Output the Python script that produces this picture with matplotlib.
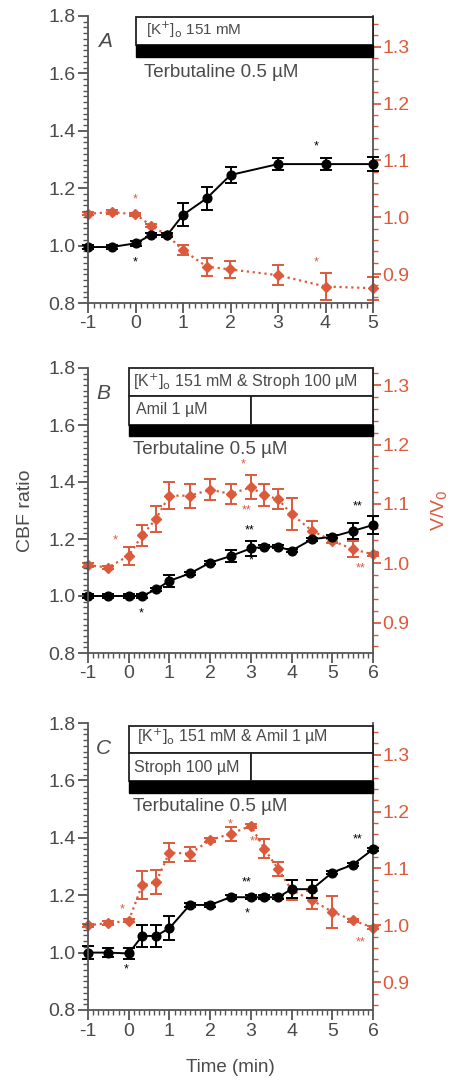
import matplotlib.pyplot as plt
from matplotlib.patches import Rectangle
from matplotlib.ticker import MultipleLocator

plt.rcParams['font.family'] = ['Liberation Sans', 'DejaVu Sans']

# ---- panel A ----
a_cbf_x = [-1, -0.5, 0, 0.33, 0.67, 1, 1.5, 2, 3, 4, 5]
a_cbf_y = [0.995, 0.995, 1.008, 1.037, 1.037, 1.107, 1.165, 1.246, 1.284, 1.284, 1.284]
a_cbf_e = [0.008, 0.008, 0.008, 0.008, 0.008, 0.04, 0.04, 0.027, 0.022, 0.022, 0.024]
a_vol_x = [-1, -0.5, 0, 0.33, 0.67, 1, 1.5, 2, 3, 4, 5]
a_vol_y = [1.006, 1.009, 1.005, 0.985, 0.968, 0.942, 0.913, 0.908, 0.898, 0.878, 0.875]
a_vol_e = [0.003, 0.003, 0.003, 0.003, 0.003, 0.009, 0.016, 0.015, 0.017, 0.023, 0.02]

# ---- panel B ----
b_cbf_x = [-1, -0.5, 0, 0.33, 0.67, 1, 1.5, 2, 2.5, 3, 3.33, 3.67, 4, 4.5, 5, 5.5, 6]
b_cbf_y = [1.0, 1.0, 1.0, 1.0, 1.023, 1.053, 1.079, 1.117, 1.14, 1.167, 1.173, 1.173, 1.159,
           1.199, 1.208, 1.228, 1.249]
b_cbf_e = [0.006, 0.006, 0.006, 0.006, 0.006, 0.02, 0.006, 0.006, 0.02, 0.025, 0.006, 0.006,
           0.006, 0.006, 0.006, 0.027, 0.03]
b_vol_x = [-1, -0.5, 0, 0.33, 0.67, 1, 1.5, 2, 2.5, 3, 3.33, 3.67, 4, 4.5, 5, 5.5, 6]
b_vol_y = [0.997, 0.993, 1.013, 1.047, 1.075, 1.114, 1.114, 1.124, 1.117, 1.128, 1.115, 1.108,
           1.083, 1.055, 1.038, 1.024, 1.015]
b_vol_e = [0.003, 0.003, 0.015, 0.017, 0.022, 0.023, 0.02, 0.018, 0.017, 0.02, 0.019, 0.017,
           0.027, 0.017, 0.003, 0.013, 0.003]

# ---- panel C ----
c_cbf_x = [-1, -0.5, 0, 0.33, 0.67, 1, 1.5, 2, 2.5, 3, 3.33, 3.67, 4, 4.5, 5, 5.5, 6]
c_cbf_y = [1.0, 1.0, 0.997, 1.058, 1.058, 1.085, 1.166, 1.166, 1.193, 1.193, 1.193, 1.193,
           1.221, 1.221, 1.279, 1.306, 1.36]
c_cbf_e = [0.022, 0.015, 0.02, 0.038, 0.038, 0.042, 0.006, 0.006, 0.006, 0.006, 0.006, 0.006,
           0.032, 0.032, 0.006, 0.006, 0.006]
c_vol_x = [-1, -0.5, 0, 0.33, 0.67, 1, 1.5, 2, 2.5, 3, 3.33, 3.67, 4, 4.5, 5, 5.5, 6]
c_vol_y = [1.0, 1.004, 1.008, 1.071, 1.076, 1.128, 1.126, 1.15, 1.161, 1.175, 1.135, 1.099,
           1.062, 1.044, 1.024, 1.009, 0.996]
c_vol_e = [0.003, 0.003, 0.003, 0.024, 0.021, 0.017, 0.012, 0.003, 0.012, 0.003, 0.017, 0.013,
           0.018, 0.016, 0.028, 0.003, 0.003]

# significance marks: (x, y on left axis, text, colour key)
a_stars = [(0, 0.94, '*', 'k'), (3.8, 1.345, '*', 'k'), (0, 1.16, '*', 'r'), (3.8, 0.94, '*', 'r')]
b_stars = [(-0.33, 1.196, '*', 'r'), (2.82, 1.46, '*', 'r'), (2.9, 1.30, '**', 'r'),
           (2.97, 1.231, '**', 'k'), (3.0, 1.126, '*', 'k'), (0.31, 0.938, '*', 'k'),
           (5.63, 1.313, '**', 'k'), (5.69, 1.097, '**', 'r')]
c_stars = [(2.5, 1.448, '*', 'r'), (-0.16, 1.149, '*', 'r'), (3.08, 1.386, '**', 'r'),
           (2.9, 1.245, '**', 'k'), (2.92, 1.135, '*', 'k'), (-0.07, 0.94, '*', 'k'),
           (5.63, 1.393, '**', 'k'), (5.69, 1.037, '**', 'r')]

RED = '#dc5a3c'
GRAY = '#4a4a4a'
SPINE = '#555555'

fig = plt.figure(figsize=(4.57, 10.9), dpi=100)
L, W = 88 / 457, 285 / 457
rects = [(L, 1 - 303 / 1090, W, 287 / 1090),
         (L, 1 - 653 / 1090, W, 285 / 1090),
         (L, 1 - 1010 / 1090, W, 287 / 1090)]


def make_panel(rect, xmax, vlim, cbf, vol, stars, letter, boxes):
    ax = fig.add_axes(rect)
    ax2 = ax.twinx()
    ax.set_zorder(ax2.get_zorder() + 1)
    ax.patch.set_visible(False)

    x, y, e = vol
    ax2.errorbar(x, y, yerr=e, color=RED, marker='D', ms=4.8, lw=1.6, ls=':',
                 elinewidth=1.4, capsize=4.5, capthick=1.4, clip_on=False)
    x, y, e = cbf
    ax.errorbar(x, y, yerr=e, color='black', marker='o', ms=6.3, lw=1.4,
                elinewidth=1.4, capsize=4.5, capthick=1.4, clip_on=False)

    ax.set_xlim(-1, xmax)
    ax.set_ylim(0.8, 1.8)
    ax2.set_ylim(*vlim)

    ax.xaxis.set_major_locator(MultipleLocator(1))
    ax.xaxis.set_minor_locator(MultipleLocator(0.125))
    ax.yaxis.set_major_locator(MultipleLocator(0.2))
    ax.yaxis.set_minor_locator(MultipleLocator(0.02))
    ax2.yaxis.set_major_locator(MultipleLocator(0.1))
    ax2.yaxis.set_minor_locator(MultipleLocator(0.02))
    ax.yaxis.set_major_formatter(plt.FormatStrFormatter('%.1f'))
    ax2.yaxis.set_major_formatter(plt.FormatStrFormatter('%.1f'))
    ax.set_xticklabels([str(int(v)) for v in ax.get_xticks()])

    for a in (ax, ax2):
        a.spines['top'].set_visible(False)
    ax.spines['right'].set_visible(False)
    ax.spines['left'].set_color(SPINE)
    ax.spines['bottom'].set_color(SPINE)
    ax2.spines['left'].set_visible(False)
    ax2.spines['bottom'].set_visible(False)
    ax2.spines['right'].set_color(SPINE)
    for s in ('left', 'bottom'):
        ax.spines[s].set_linewidth(1.3)
    ax2.spines['right'].set_linewidth(1.3)

    ax.tick_params(which='major', length=7, width=1.3, color=SPINE, labelsize=14,
                   labelcolor=GRAY, pad=2)
    ax.tick_params(which='minor', length=3.5, width=1.0, color=SPINE)
    ax2.tick_params(which='major', length=6, width=1.3, color=RED, labelsize=14,
                    labelcolor=RED, pad=1)
    ax2.tick_params(which='minor', length=3.5, width=1.0, color=RED)

    for sx, sy, st, c in stars:
        ax.text(sx, sy, st, color='black' if c == 'k' else RED, fontsize=9,
                ha='center', va='center')

    ax.text(-0.62 if xmax > 5 else -0.65, 1.71, letter, fontsize=15, style='italic',
            color=GRAY, ha='center', va='center')

    # treatment bars
    for kind, x0, x1, y0, y1 in boxes:
        if kind == 'black':
            ax.add_patch(Rectangle((x0, y0), x1 - x0, y1 - y0, facecolor='black',
                                   edgecolor='black', lw=1, zorder=5, clip_on=False))
        else:
            ax.add_patch(Rectangle((x0, y0), x1 - x0, y1 - y0, facecolor='white',
                                   edgecolor='#222222', lw=1.3, zorder=5, clip_on=False))
    return ax, ax2


axA, axA2 = make_panel(rects[0], 5, (0.849, 1.354),
                       (a_cbf_x, a_cbf_y, a_cbf_e), (a_vol_x, a_vol_y, a_vol_e),
                       a_stars, 'A',
                       [('white', 0, 5, 1.70, 1.795), ('black', 0, 5, 1.657, 1.70)])
axA.text(0.22, 1.75, r'[K$^{+}$]$_{\mathrm{o}}$ 151 mM', fontsize=11, color=GRAY,
         va='center', zorder=6)
axA.text(0.18, 1.602, 'Terbutaline 0.5 µM', fontsize=13.5, color=GRAY, va='center', zorder=6)

axB, axB2 = make_panel(rects[1], 6, (0.849, 1.329),
                       (b_cbf_x, b_cbf_y, b_cbf_e), (b_vol_x, b_vol_y, b_vol_e),
                       b_stars, 'B',
                       [('white', 0, 6, 1.703, 1.8), ('white', 0, 3, 1.601, 1.703),
                        ('white', 3, 6, 1.601, 1.703), ('black', 0, 6, 1.56, 1.601)])
axB.text(0.1, 1.753, r'[K$^{+}$]$_{\mathrm{o}}$ 151 mM & Stroph 100 µM', fontsize=11.5,
         color=GRAY, va='center', zorder=6)
axB.text(0.19, 1.656, 'Amil 1 µM', fontsize=11.5, color=GRAY, va='center', zorder=6)
axB.text(0.1, 1.515, 'Terbutaline 0.5 µM', fontsize=13.5, color=GRAY, va='center', zorder=6)
axB.set_ylabel('CBF ratio', fontsize=14, color=GRAY, labelpad=10)
axB2.set_ylabel(r'V/V$_0$', fontsize=14, color=RED, rotation=90, labelpad=14)

axC, axC2 = make_panel(rects[2], 6, (0.851, 1.356),
                       (c_cbf_x, c_cbf_y, c_cbf_e), (c_vol_x, c_vol_y, c_vol_e),
                       c_stars, 'C',
                       [('white', 0, 6, 1.695, 1.791), ('white', 0, 3, 1.597, 1.695),
                        ('white', 3, 6, 1.597, 1.695), ('black', 0, 6, 1.556, 1.597)])
axC.text(0.2, 1.751, r'[K$^{+}$]$_{\mathrm{o}}$ 151 mM & Amil 1 µM', fontsize=11.5,
         color=GRAY, va='center', zorder=6)
axC.text(0.13, 1.645, 'Stroph 100 µM', fontsize=11.5, color=GRAY, va='center', zorder=6)
axC.text(0.1, 1.51, 'Terbutaline 0.5 µM', fontsize=13.5, color=GRAY, va='center', zorder=6)
axC.set_xlabel('Time (min)', fontsize=13.5, color=GRAY, labelpad=14)

fig.savefig('out.png', dpi=100)
